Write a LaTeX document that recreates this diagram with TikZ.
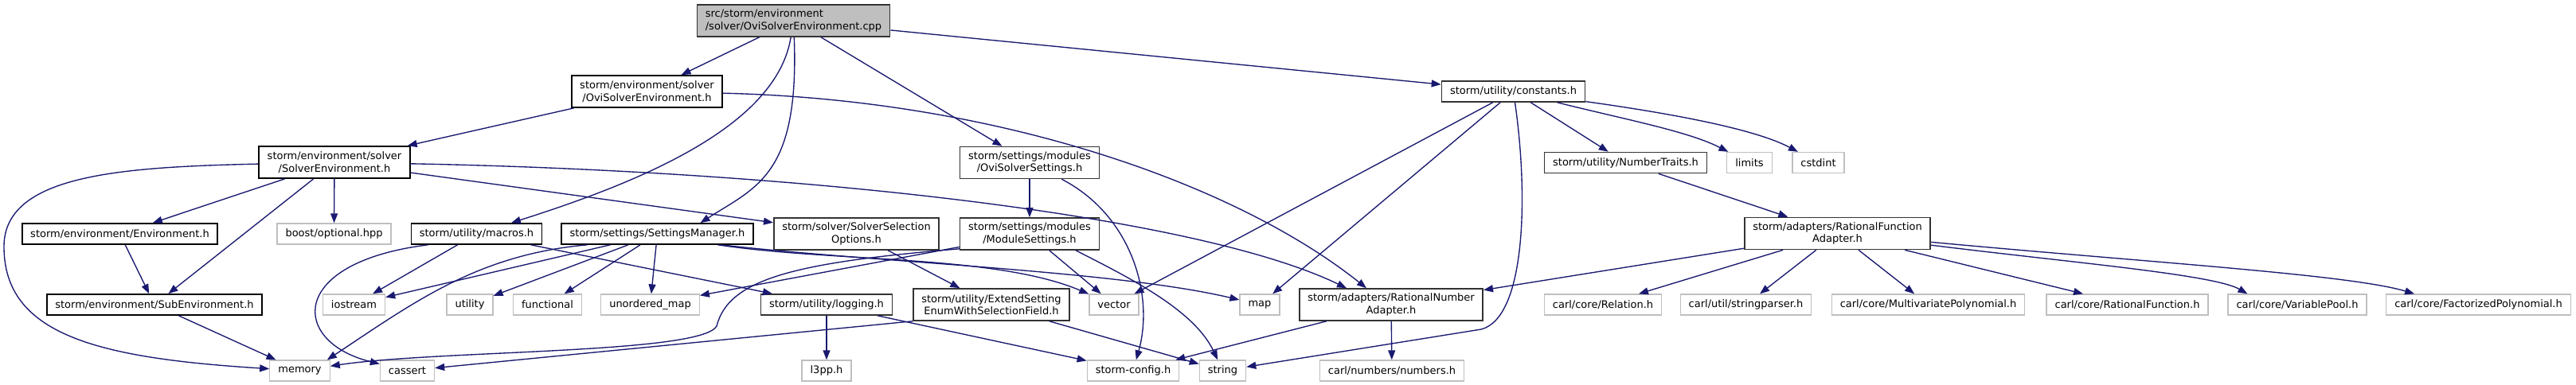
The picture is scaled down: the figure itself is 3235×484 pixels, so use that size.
\documentclass[tikz,border=0pt]{standalone}
\usepackage{fontspec}
\setmainfont{DejaVu Sans}
\usetikzlibrary{arrows.meta}
\definecolor{edgeblue}{HTML}{191970}
\definecolor{lgray}{HTML}{BFBFBF}
\definecolor{dgray}{HTML}{333333}
\begin{document}
\begin{tikzpicture}[x=1pt,y=-1pt,
 nb/.style={rectangle, inner xsep=10.5pt, inner ysep=0pt, font=\fontsize{13pt}{15.5pt}\selectfont, text=black, align=center, fill=white, line width=1.6pt},
 blk/.style={nb, draw=black},
 dgr/.style={nb, draw=dgray},
 sys/.style={nb, draw=lgray, line width=1.3pt},
 l1/.style={minimum height=26pt},
 l2/.style={minimum height=40pt},
 dep/.style={draw=edgeblue, line width=1.35pt, -{Triangle[length=12pt,width=9pt]}},
]
\fill[white] (0,0) rectangle (3235,484);
\useasboundingbox (0,0) rectangle (3235,484);

% rank 0
\node[dgr,l2,align=left,fill=lgray] (cpp) at (996.5,26) {src/storm/environment\\/solver/OviSolverEnvironment.cpp};
% rank 1
\node[blk,l2] (OSE) at (812.5,115) {storm/environment/solver\\/OviSolverEnvironment.h};
\node[dgr,l1] (constants) at (1900.5,115) {storm/utility/constants.h};
% rank 2
\node[blk,l2] (SE) at (420,204) {storm/environment/solver\\/SolverEnvironment.h};
\node[dgr,l2] (OSS) at (1293,204.5) {storm/settings/modules\\/OviSolverSettings.h};
\node[dgr,l1] (NT) at (2041.5,204.5) {storm/utility/NumberTraits.h};
\node[sys,l1] (limits) at (2197,204.5) {limits};
\node[sys,l1] (cstdint) at (2283.5,204.5) {cstdint};
% rank 3
\node[blk,l1] (Env) at (150.5,294) {storm/environment/Environment.h};
\node[sys,l1] (boost) at (419.5,294) {boost/optional.hpp};
\node[blk,l1] (macros) at (598.5,294) {storm/utility/macros.h};
\node[blk,l1] (SM) at (825.5,294) {storm/settings/SettingsManager.h};
\node[dgr,l2] (SSO) at (1075.5,294) {storm/solver/SolverSelection\\Options.h};
\node[dgr,l2] (MS) at (1293,294) {storm/settings/modules\\/ModuleSettings.h};
\node[dgr,l2] (RFA) at (2307.5,293.5) {storm/adapters/RationalFunction\\Adapter.h};
% rank 4
\node[blk,l1] (SubEnv) at (194,383) {storm/environment/SubEnvironment.h};
\node[sys,l1] (iostream) at (444.5,383) {iostream};
\node[sys,l1] (utility) at (590,383) {utility};
\node[sys,l1] (functional) at (687.5,383) {functional};
\node[sys,l1] (umap) at (816.5,383) {unordered\_map};
\node[dgr,l1] (logging) at (1038,383) {storm/utility/logging.h};
\node[dgr,l2] (ES) at (1245,383) {storm/utility/ExtendSetting\\EnumWithSelectionField.h};
\node[sys,l1] (vector) at (1399,383) {vector};
\node[sys,l1] (map) at (1582,383) {map};
\node[dgr,l2] (RNA) at (1747,383) {storm/adapters/RationalNumber\\Adapter.h};
\node[sys,l1] (relation) at (2013,383) {carl/core/Relation.h};
\node[sys,l1] (sparser) at (2192.5,383) {carl/util/stringparser.h};
\node[sys,l1] (mpoly) at (2421.5,383) {carl/core/MultivariatePolynomial.h};
\node[sys,l1] (rfunc) at (2671.5,383) {carl/core/RationalFunction.h};
\node[sys,l1] (vpool) at (2885,383) {carl/core/VariablePool.h};
\node[sys,l1] (fpoly) at (3112.5,383) {carl/core/FactorizedPolynomial.h};
% rank 5
\node[sys,l1] (memory) at (376.5,466) {memory};
\node[sys,l1] (cassert) at (511.5,466) {cassert};
\node[sys,l1] (l3pp) at (1038,466) {l3pp.h};
\node[sys,l1] (config) at (1423,466) {storm-config.h};
\node[sys,l1] (string) at (1535.5,466) {string};
\node[sys,l1] (numbers) at (1748,466) {carl/numbers/numbers.h};

% edges from cpp
\draw[dep] (cpp) -- (OSE);
\draw[dep] (cpp) .. controls (975,160) and (800,230) .. (macros);
\draw[dep] (cpp) .. controls (1004,220) and (950,235) .. ([xshift=54pt]SM.north);
\draw[dep] (cpp) -- (OSS);
\draw[dep] (cpp) -- (constants);
% OSE
\draw[dep] (OSE) -- (SE);
\draw[dep] (OSE) .. controls (1250,125) and (1550,230) .. ([xshift=-31pt]RNA.north);
% SE
\draw[dep] (SE) -- (Env);
\draw[dep] (SE) -- (SubEnv);
\draw[dep] (SE) -- (boost);
\draw[dep] (SE) .. controls (150,210) and (5,220) .. (5,310) .. controls (5,420) and (120,450) .. (memory);
\draw[dep] (SE) -- (SSO);
\draw[dep] (SE) .. controls (1000,215) and (1500,270) .. ([xshift=-56pt]RNA.north);
% Environment, SubEnvironment
\draw[dep] (Env) -- (SubEnv);
\draw[dep] (SubEnv) -- (memory);
% macros
\draw[dep] ([xshift=-61pt]macros.south) .. controls (360,330) and (365,430) .. (cassert);
\draw[dep] (macros) -- (iostream);
\draw[dep] (macros) -- (logging);
% SettingsManager
\draw[dep] (SM) -- (iostream);
\draw[dep] ([xshift=-88pt]SM.south) .. controls (600,320) and (520,380) .. ([xshift=-4pt]memory.north east);
\draw[dep] (SM) -- (utility);
\draw[dep] (SM) -- (functional);
\draw[dep] (SM) -- (umap);
\draw[dep] ([xshift=76pt]SM.south) .. controls (1050,330) and (1250,320) .. (vector);
\draw[dep] ([xshift=80pt]SM.south) .. controls (1100,330) and (1400,340) .. (map);
% ModuleSettings
\draw[dep] (MS) -- (umap);
\draw[dep] ([yshift=2pt]MS.south west) .. controls (1000,330) and (915,350) .. (900,410) .. controls (880,445) and (550,440) .. (memory);
\draw[dep] (MS) -- (vector);
\draw[dep] ([xshift=58pt]MS.south) .. controls (1420,350) and (1500,390) .. (string);
% OviSolverSettings
\draw[dep] (OSS) -- (MS);
\draw[dep] (OSS) .. controls (1420,270) and (1450,370) .. (config);
% SolverSelectionOptions, ExtendSetting
\draw[dep] (SSO) -- (ES);
\draw[dep] (ES) -- (string);
\draw[dep] (ES.south west) -- (cassert);
% logging
\draw[dep] (logging) -- (l3pp);
\draw[dep] (logging) -- (config);
% constants
\draw[dep] (constants) -- (vector);
\draw[dep] (constants) -- (map);
\draw[dep] (constants) .. controls (1920,250) and (1915,400) .. (1860,414) -- (string);
\draw[dep] (constants) -- (NT);
\draw[dep] (constants) .. controls (2040,150) and (2120,165) .. (limits);
\draw[dep] (constants) .. controls (2080,140) and (2200,160) .. (cstdint);
% NumberTraits
\draw[dep] (NT) -- (RFA);
% RationalFunctionAdapter
\draw[dep] (RFA) -- (RNA);
\draw[dep] (RFA) -- (relation);
\draw[dep] (RFA) -- (sparser);
\draw[dep] (RFA) -- (mpoly);
\draw[dep] (RFA) -- (rfunc);
\draw[dep] (RFA) .. controls (2600,330) and (2780,345) .. ([xshift=25pt]vpool.north west);
\draw[dep] (RFA) .. controls (2700,330) and (2950,345) .. ([xshift=36pt]fpoly.north west);
% RationalNumberAdapter
\draw[dep] (RNA) -- (config);
\draw[dep] (RNA) -- (numbers);
\end{tikzpicture}
\end{document}
